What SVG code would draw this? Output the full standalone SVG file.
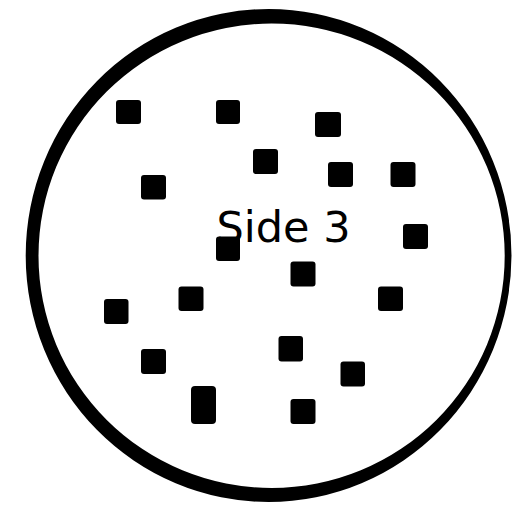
<svg xmlns="http://www.w3.org/2000/svg" width="512" height="512" viewBox="0 0 512 512">
<style>
.sq{fill:#000}
.lbl{font-family:"DejaVu Sans",sans-serif;font-size:43px;fill:#000}
</style>
<rect width="512" height="512" fill="#fff"/>
<g id="rim">
<path fill="#000" fill-rule="evenodd" d="M25.7,255.5 A242.9,246.5 0 1,0 511.5,255.5 A242.9,246.5 0 1,0 25.7,255.5 Z M38.5,255.75 A233.1,232.25 0 1,1 504.7,255.75 A233.1,232.25 0 1,1 38.5,255.75 Z"/>
</g>
<g id="dots">
<rect class="sq" x="116" y="100" width="25" height="24" rx="3"/>
<rect class="sq" x="216" y="100" width="24" height="24" rx="3"/>
<rect class="sq" x="315" y="112" width="26" height="25" rx="3"/>
<rect class="sq" x="253" y="149" width="25" height="25" rx="3"/>
<rect class="sq" x="328" y="162" width="25" height="25" rx="3"/>
<rect class="sq" x="390.5" y="162" width="25" height="25" rx="3"/>
<rect class="sq" x="141" y="175" width="25" height="24.5" rx="3"/>
<rect class="sq" x="403" y="224" width="25" height="25" rx="3"/>
<rect class="sq" x="216" y="236.5" width="24" height="24.5" rx="3"/>
<rect class="sq" x="290.5" y="261.5" width="25" height="25" rx="3"/>
<rect class="sq" x="178.5" y="286.5" width="25" height="24.5" rx="3"/>
<rect class="sq" x="378" y="286.5" width="25" height="24.5" rx="3"/>
<rect class="sq" x="104" y="299" width="24.5" height="25" rx="3"/>
<rect class="sq" x="278.5" y="336" width="24.5" height="25.5" rx="3"/>
<rect class="sq" x="141" y="349" width="25" height="25" rx="3"/>
<rect class="sq" x="340.5" y="361.5" width="24.5" height="25" rx="3"/>
<rect class="sq" x="191" y="386" width="25" height="38" rx="4"/>
<rect class="sq" x="290.5" y="399" width="25" height="25" rx="3"/>
</g>
<g id="label">
<text class="lbl" x="216.5" y="242.3">Side 3</text>
</g>
</svg>
